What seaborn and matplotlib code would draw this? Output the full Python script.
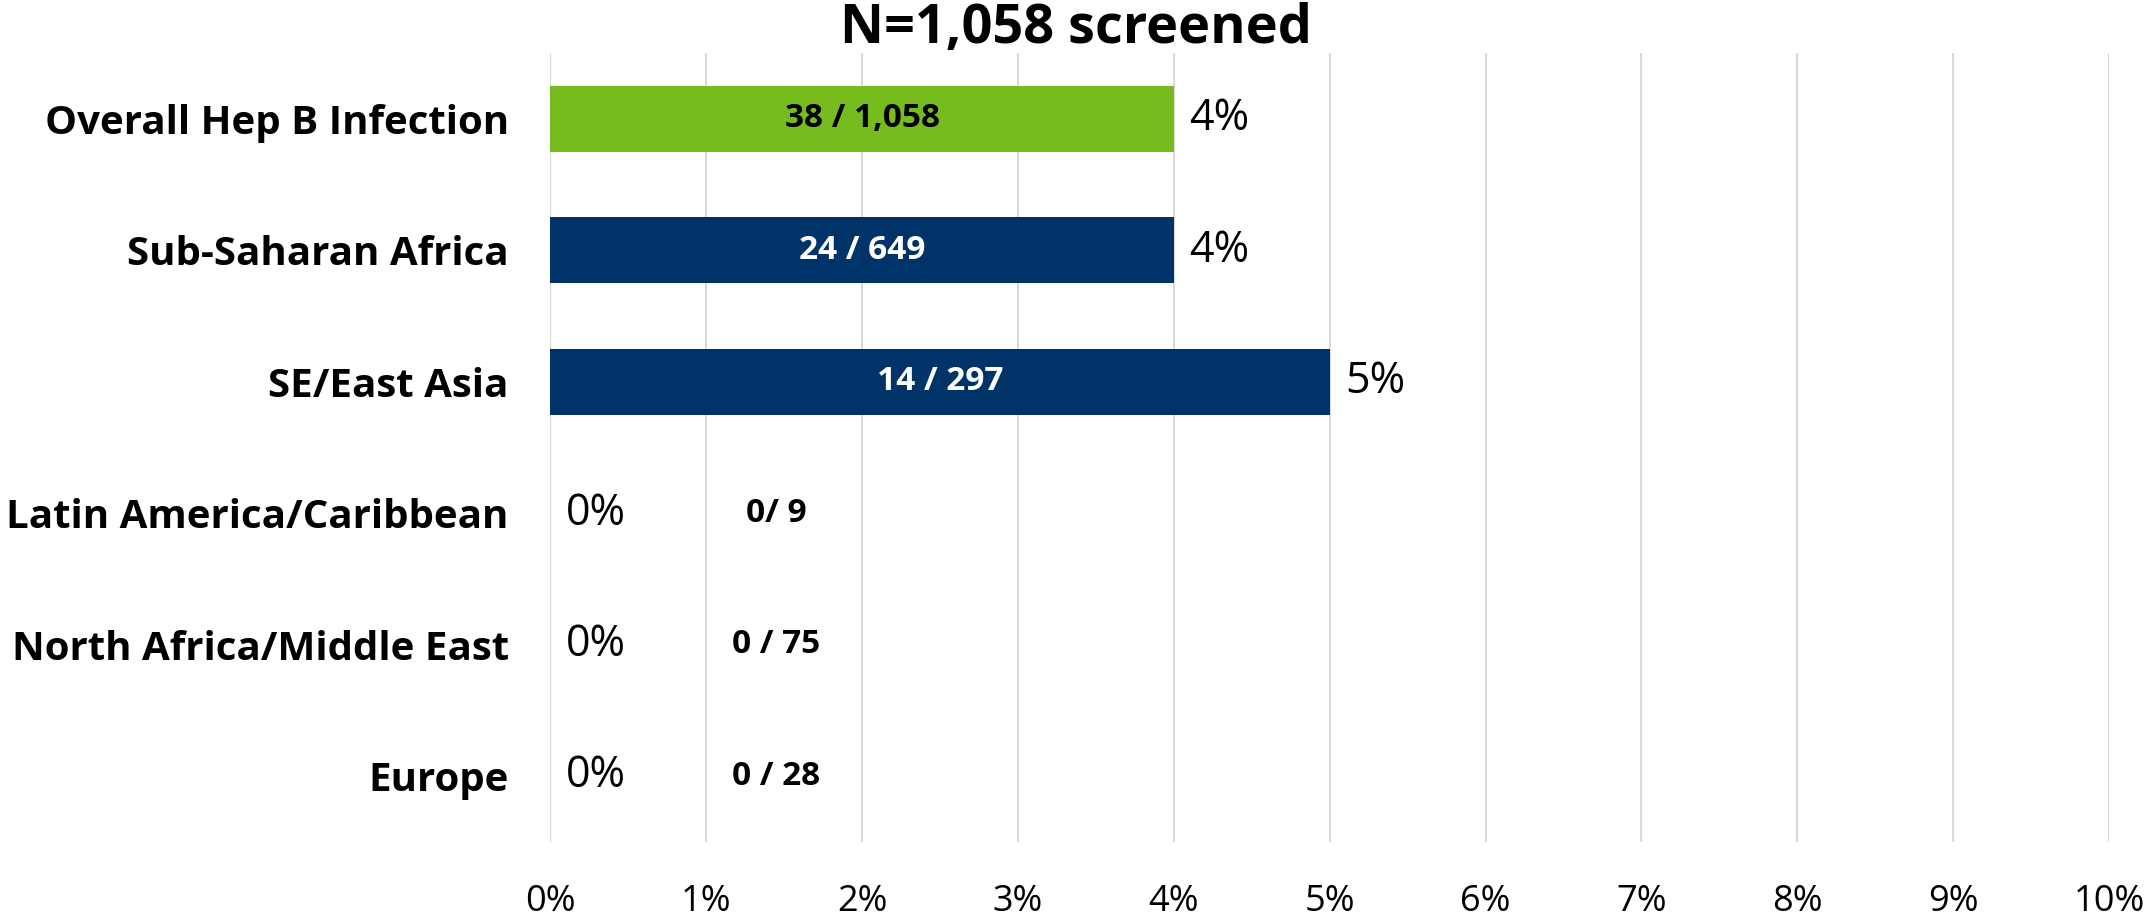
import matplotlib
matplotlib.use("Agg")
import matplotlib.pyplot as plt
import seaborn as sns
import pandas as pd

regions = [
    "Overall Hep B Infection",
    "Sub-Saharan Africa",
    "SE/East Asia",
    "Latin America/Caribbean",
    "North Africa/Middle East",
    "Europe",
]
positive = [38, 24, 14, 0, 0, 0]
screened = [1058, 649, 297, 9, 75, 28]
pct_shown = [4, 4, 5, 0, 0, 0]
pct_labels = ["4%", "4%", "5%", "0%", "0%", "0%"]
count_labels = ["38 / 1,058", "24 / 649", "14 / 297", "0/ 9", "0 / 75", "0 / 28"]
bar_colors = ["#77BC1F", "#003469", "#003469", "#003469", "#003469", "#003469"]
text_colors = ["black", "white", "white", "black", "black", "black"]

df = pd.DataFrame({"region": regions, "pos": positive, "n": screened,
                   "shown": pct_shown})

sns.set_style("white")
plt.rcParams["font.family"] = ["Open Sans", "DejaVu Sans"]
plt.rcParams["text.color"] = "black"
plt.rcParams["xtick.color"] = "black"
plt.rcParams["ytick.color"] = "black"

fig = plt.figure(figsize=(21.53, 9.19), dpi=100)
ax = fig.add_axes([0.2556, 0.0838, 0.724, 0.8585])

sns.barplot(data=df, y="region", x="shown", hue="region",
            palette=dict(zip(regions, bar_colors)), legend=False,
            width=0.5, saturation=1, linewidth=0, ax=ax, zorder=3)

ax.set_xlim(0, 10)
ax.set_ylim(5.5, -0.5)
ax.set_xticks(range(0, 11))
ax.set_xticklabels([f"{i}%" for i in range(0, 11)], fontsize=26)
ax.tick_params(axis="x", length=0, pad=30)
ax.tick_params(axis="y", length=0, pad=30)
for lbl in ax.get_yticklabels():
    lbl.set_fontweight("bold")
    lbl.set_fontsize(29)
ax.set_xlabel("")
ax.set_ylabel("")
ax.grid(axis="x", color="#D9D9D9", linewidth=1.5, zorder=0)
for s in ax.spines.values():
    s.set_visible(False)

for i, row in df.iterrows():
    v = row["shown"]
    ax.text(v + 0.1, i, pct_labels[i], va="center", ha="left", fontsize=31)
    if v > 0:
        ax.text(v / 2, i, count_labels[i], va="center", ha="center",
                fontsize=24, fontweight="bold", color=text_colors[i], zorder=4)
    else:
        ax.text(1.45, i, count_labels[i], va="center", ha="center",
                fontsize=24, fontweight="bold", color=text_colors[i])

fig.text(0.5, 0.968, "N=1,058 screened", ha="center", va="center",
         fontsize=39, fontweight="bold")

fig.savefig("out.png", dpi=100)
